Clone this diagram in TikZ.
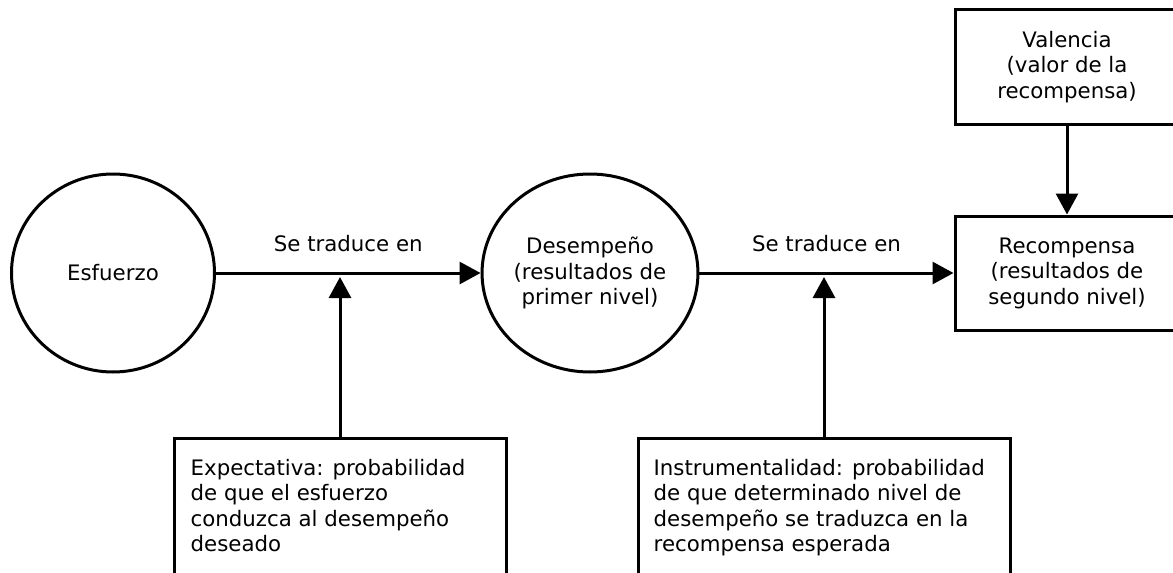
\documentclass[tikz,border=0pt]{standalone}
\usepackage{fontspec}
\setmainfont{DejaVu Sans}
\usetikzlibrary{arrows.meta,shapes.geometric,calc}

\tikzset{
  flow/.style={line width=3pt, -{Triangle[length=21pt,width=22pt]}},
  bubble/.style={draw, ellipse, line width=3pt, align=center, inner sep=0pt},
  panel/.style={draw, rectangle, line width=3pt, align=center, inner sep=0pt},
  note/.style={anchor=north west, align=left, inner sep=0pt},
  linklabel/.style={above, inner xsep=0pt, inner ysep=20pt},
}

\begin{document}
\begin{tikzpicture}[x=1pt,y=-1pt, font=\fontsize{21.3}{25.5}\selectfont]
    \useasboundingbox (0,0) rectangle (1173,573);
    \clip (0,0) rectangle (1173,573);

    %Shape: Circle
    \node [bubble, minimum width=203pt, minimum height=198pt] (esfuerzo) at (113,273) {Esfuerzo};
    %Shape: Circle
    \node [bubble, minimum width=214pt, minimum height=198pt] (desempeno) at (590,273) {Desempeño\\(resultados de\\primer nivel)};

    %Shape: Rectangle
    \node [panel, minimum width=224pt, minimum height=114pt] (recompensa) at (1067,273) {Recompensa\\(resultados de\\segundo nivel)};
    %Shape: Rectangle
    \node [panel, minimum width=224pt, minimum height=115pt] (valencia) at (1067,67) {Valencia\\(valor de la\\recompensa)};

    %Shape: Rectangle (cut by the bottom edge)
    \node [panel, minimum width=332pt, minimum height=200pt, anchor=north] (expectativa) at (340,437) {};
    \node [panel, minimum width=372pt, minimum height=200pt, anchor=north] (instrumental) at (824,437) {};

    % Text Node
    \node [note] (exptext) at ($(expectativa.north west)+(18,22)$) {Expectativa: probabilidad\\de que el esfuerzo\\conduzca al desempeño\\deseado};
    % Text Node
    \node [note] (instext) at ($(instrumental.north west)+(17,22)$) {Instrumentalidad: probabilidad\\de que determinado nivel de\\desempeño se traduzca en la\\recompensa esperada};

    %Straight Lines
    \draw [flow] (esfuerzo.east) -- node [linklabel] (trad1) {Se traduce en} (desempeno.west);
    \draw [flow] (desempeno.east) -- node [linklabel] (trad2) {Se traduce en} (recompensa.west);
    \draw [flow] (valencia.south) -- (recompensa.north);

    \draw [flow] (expectativa.north) -- ($(expectativa.north |- esfuerzo.east)+(0,4)$);
    \draw [flow] (instrumental.north) -- ($(instrumental.north |- desempeno.east)+(0,4)$);

\end{tikzpicture}
\end{document}
